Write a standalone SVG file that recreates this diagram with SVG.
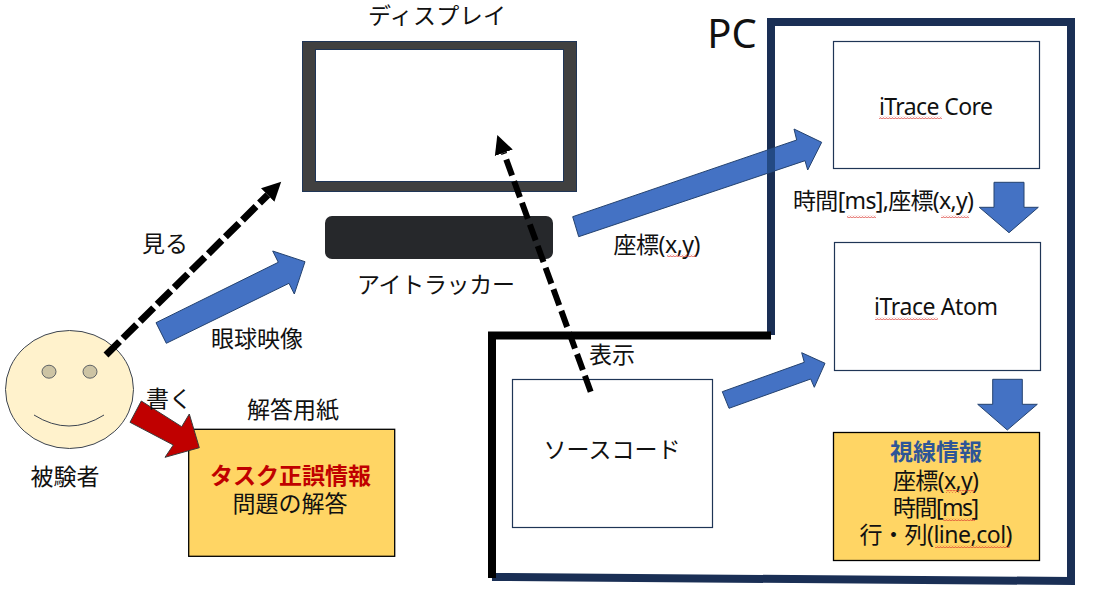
<svg xmlns="http://www.w3.org/2000/svg" width="1093" height="590" viewBox="0 0 1093 590">
<style>
text{font-family:"Noto Sans","Noto Sans CJK JP",sans-serif;font-size:23px;fill:#111;text-anchor:middle}
.box{fill:#fff;stroke:#1f3556;stroke-width:1.2}
.note{fill:#ffd564;stroke:#000;stroke-width:1.3}
.blue{fill:#4472c4;stroke:#24426f;stroke-width:1}
.dash{fill:none;stroke:#000;stroke-width:6;stroke-dasharray:17 6}
.wide{stroke-width:7;stroke-dasharray:19 5}
.navy{fill:none;stroke:#1a2f55;stroke-width:8}
.black{fill:none;stroke:#000;stroke-width:8}
.sq{fill:url(#squiggle)}
</style>
<defs>
<marker id="head" markerUnits="userSpaceOnUse" markerWidth="26" markerHeight="26" viewBox="0 -13 26 26" refX="0" refY="0" orient="auto"><path d="M0,-9.5L19,0L0,9.5Z" fill="#000"/></marker>
<pattern id="squiggle" patternUnits="userSpaceOnUse" width="3" height="3"><path d="M0,2.4L1.5,0.6L3,2.4" fill="none" stroke="#d9332c" stroke-width="0.8"/></pattern>
</defs>
<rect width="1093" height="590" fill="#fff"/>

<g id="pc">
<path class="navy" d="M771,335V22H1071V581L492,577"/>
<path class="black" d="M771,335.5H492V578"/>
<text x="732" y="48" style="font-size:40px">PC</text>
</g>

<g id="display">
<rect x="302.5" y="41.5" width="274" height="150" fill="#404040" stroke="#1f3556"/>
<rect x="315.5" y="49.5" width="248" height="132" fill="#fff" stroke="#1f3556"/>
<text x="437" y="24" textLength="138">ディスプレイ</text>
</g>

<g id="eyetracker">
<rect x="325" y="216" width="228" height="43" rx="7" fill="#26282b"/>
<text x="436" y="293" textLength="158">アイトラッカー</text>
</g>

<g id="subject">
<ellipse cx="69.5" cy="389.5" rx="64" ry="59" fill="#fff2cc" stroke="#3c4450" stroke-width="1"/>
<ellipse cx="49" cy="371.7" rx="7" ry="6.5" fill="#cdc4a4" stroke="#3c4450" stroke-width="0.8"/>
<ellipse cx="90" cy="371.7" rx="7" ry="6.5" fill="#cdc4a4" stroke="#3c4450" stroke-width="0.8"/>
<path d="M34,415Q69,437 104,415" fill="none" stroke="#3c4450" stroke-width="1"/>
<text x="65" y="485">被験者</text>
</g>

<g id="answer-sheet">
<rect class="note" x="188.7" y="429.3" width="206" height="127"/>
<text x="293" y="418">解答用紙</text>
<text x="290.5" y="484" style="font-weight:700;fill:#c00000">タスク正誤情報</text>
<text x="290" y="512">問題の解答</text>
</g>

<g id="source-code">
<rect class="box" x="512.5" y="379.5" width="200" height="148"/>
<text x="612" y="458" textLength="137">ソースコード</text>
</g>

<g id="itrace-core">
<rect class="box" x="833.5" y="41.5" width="206" height="127"/>
<text x="936" y="115" textLength="114">iTrace Core</text>
<rect class="sq" x="879" y="116" width="63" height="3"/>
</g>

<g id="itrace-atom">
<rect class="box" x="834.5" y="242.5" width="206" height="128"/>
<text x="936" y="315" textLength="124">iTrace Atom</text>
<rect class="sq" x="875" y="317" width="63" height="3"/>
</g>

<g id="gaze-info">
<rect class="note" x="833.5" y="432.5" width="206" height="128"/>
<text x="936" y="460" style="font-weight:700;fill:#2f5597">視線情報</text>
<text x="936" y="489" textLength="86">座標(x,y)</text>
<rect class="sq" x="946" y="490" width="29" height="3"/>
<text x="936" y="516" textLength="86">時間[ms]</text>
<rect class="sq" x="943" y="518" width="32" height="3"/>
<text x="936" y="543" textLength="153">行・列(line,col)</text>
<rect class="sq" x="935" y="545" width="75" height="3"/>
</g>

<g id="connectors">
<path class="dash wide" d="M106,355L267.7,195" marker-end="url(#head)"/>
<path class="dash" d="M590.7,391.7L503.8,152.8" marker-end="url(#head)"/>
<polygon class="blue" points="156,322.7 278.3,262.3 272.7,251 305,261.7 294.3,294 289,283.3 166.3,343.3"/>
<polygon class="blue" points="572.7,216.7 796.7,140 794,129 821.7,142.3 807.7,170 805,160.7 578.7,236.7"/>
<polygon points="767,150.3 775,147.5 775,170.7 767,173.4" fill="#234a84"/>
<polygon class="blue" points="722.3,391.7 804.3,362.3 801.7,352.7 825,363.3 814.3,387.3 810.7,379 729,408.3"/>
<polygon class="blue" points="994,182.3 1024,182.3 1024,207.3 1038.3,207.3 1009,232.7 979.3,207.3 994,207.3"/>
<polygon class="blue" points="992.7,379.3 1022.3,379.3 1022.3,404.3 1037.3,404.3 1007.3,430 977.7,404.3 992.7,404.3"/>
<polygon points="141.3,401 181.7,426.7 189.3,414 199.3,447.7 165,457.3 173.3,445 130,422.3" fill="#c00000" stroke="#3a3a3a" stroke-width="1"/>
</g>

<g id="labels">
<text x="165" y="252">見る</text>
<text x="257" y="347">眼球映像</text>
<text x="169" y="407">書く</text>
<text x="657" y="253" textLength="87">座標(x,y)</text>
<rect class="sq" x="667" y="254" width="29" height="3"/>
<text x="612" y="363">表示</text>
<text x="883.5" y="209" textLength="181">時間[ms],座標(x,y)</text>
<rect class="sq" x="847" y="215" width="29" height="3"/>
<rect class="sq" x="941" y="215" width="28" height="3"/>
</g>
</svg>
